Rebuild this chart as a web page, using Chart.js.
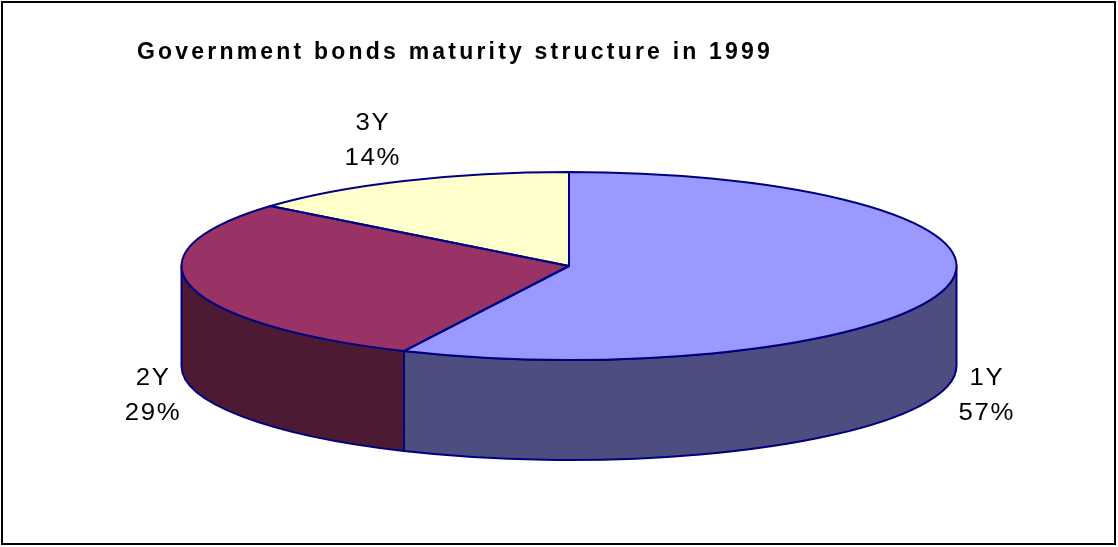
<!DOCTYPE html>
<html>
<head>
<meta charset="utf-8">
<script src="https://cdn.jsdelivr.net/npm/chart.js@4/dist/chart.umd.min.js"></script>
<style>
  html, body { margin: 0; padding: 0; background: #ffffff; }
  #wrap { width: 1118px; height: 547px; }
</style>
</head>
<body>
<div id="wrap"><canvas id="c" width="1118" height="547"></canvas></div>
<script>
// ---- data ----
const titleText = 'Government bonds maturity structure in 1999';
const categories = ['1Y', '2Y', '3Y'];
const shares = [57, 29, 14];

// ---- styles ----
const topColors  = ['#9999FF', '#993366', '#FFFFCC'];
const sideColors = ['#4D4D80', '#4D1A33', '#80806A'];
const edgeColor = '#000080';
const RX = 387.5, RY = 94, DEPTH = 100;

const pie3d = {
  id: 'pie3d',
  beforeDatasetsDraw(chart) {
    const ctx = chart.ctx;
    const arcs = chart.getDatasetMeta(0).data;
    const p0 = arcs[0].getProps(['x', 'y', 'outerRadius'], true);
    const cx = p0.x, cy = p0.y, r = p0.outerRadius;
    // side walls (front half only: canvas angles 0..PI)
    ctx.save();
    ctx.lineWidth = 2;
    ctx.strokeStyle = edgeColor;
    ctx.lineJoin = 'round';
    arcs.forEach((arc, i) => {
      const p = arc.getProps(['startAngle', 'endAngle'], true);
      [0, 2 * Math.PI, -2 * Math.PI].forEach(k => {
        const a = Math.max(p.startAngle, k);
        const b = Math.min(p.endAngle, k + Math.PI);
        if (b - a > 1e-6) {
          ctx.beginPath();
          ctx.ellipse(cx, cy, RX, RY, 0, a, b, false);
          ctx.ellipse(cx, cy + DEPTH, RX, RY, 0, b, a, true);
          ctx.closePath();
          ctx.fillStyle = sideColors[i];
          ctx.fill();
          ctx.stroke();
        }
      });
    });
    ctx.restore();
    // flatten the top face drawn by Chart.js
    ctx.save();
    ctx.translate(cx, cy);
    ctx.scale(RX / r, RY / r);
    ctx.translate(-cx, -cy);
  },
  afterDatasetsDraw(chart) {
    const ctx = chart.ctx;
    ctx.restore();
    const arcs = chart.getDatasetMeta(0).data;
    const p0 = arcs[0].getProps(['x', 'y'], true);
    const cx = p0.x, cy = p0.y;
    ctx.save();
    ctx.lineWidth = 2;
    ctx.strokeStyle = edgeColor;
    ctx.lineJoin = 'round';
    arcs.forEach(arc => {
      const p = arc.getProps(['startAngle', 'endAngle'], true);
      ctx.beginPath();
      ctx.moveTo(cx, cy);
      ctx.ellipse(cx, cy, RX, RY, 0, p.startAngle, p.endAngle, false);
      ctx.closePath();
      ctx.stroke();
    });
    // labels
    const total = shares.reduce((s, v) => s + v, 0);
    ctx.fillStyle = '#000000';
    ctx.font = '23px "Liberation Sans", Arial, sans-serif';
    ctx.letterSpacing = '1.5px';
    ctx.textAlign = 'center';
    ctx.textBaseline = 'middle';
    const a = 12, b = 18, w = 54, h = 52, lh = 35;
    arcs.forEach((arc, i) => {
      const p = arc.getProps(['startAngle', 'endAngle'], true);
      const m = (p.startAngle + p.endAngle) / 2;
      const c = Math.cos(m), s = Math.sin(m);
      const x = cx + (RX + a) * c + Math.sign(c) * w / 2;
      const y = cy + (RY + b) * s + (h / 2) * s + (s > 0 ? DEPTH : 0);
      const pct = Math.round(shares[i] / total * 100) + '%';
      ctx.save();
      ctx.translate(x + 1, y);
      ctx.scale(1.12, 1);
      ctx.fillText(categories[i], 0, -lh / 2);
      ctx.fillText(pct, 0, lh / 2);
      ctx.restore();
    });
    ctx.restore();
  },
  afterDraw(chart) {
    const ctx = chart.ctx;
    ctx.save();
    // title
    ctx.fillStyle = '#000000';
    ctx.font = 'bold 23px "Liberation Sans", Arial, sans-serif';
    ctx.letterSpacing = '3.2px';
    ctx.textAlign = 'left';
    ctx.textBaseline = 'alphabetic';
    ctx.fillText(titleText, 137, 59);
    // frame
    ctx.letterSpacing = '0px';
    ctx.strokeStyle = '#000000';
    ctx.lineWidth = 2;
    ctx.strokeRect(2, 2, 1113, 542);
    ctx.restore();
  }
};

new Chart(document.getElementById('c'), {
  type: 'pie',
  data: {
    labels: categories,
    datasets: [{
      data: shares,
      backgroundColor: topColors,
      borderWidth: 0
    }]
  },
  options: {
    responsive: false,
    animation: false,
    events: [],
    layout: { padding: { left: 150, right: 130, top: 150, bottom: 165 } },
    plugins: {
      legend: { display: false },
      title: { display: false },
      tooltip: { enabled: false }
    }
  },
  plugins: [pie3d]
});
</script>
</body>
</html>
